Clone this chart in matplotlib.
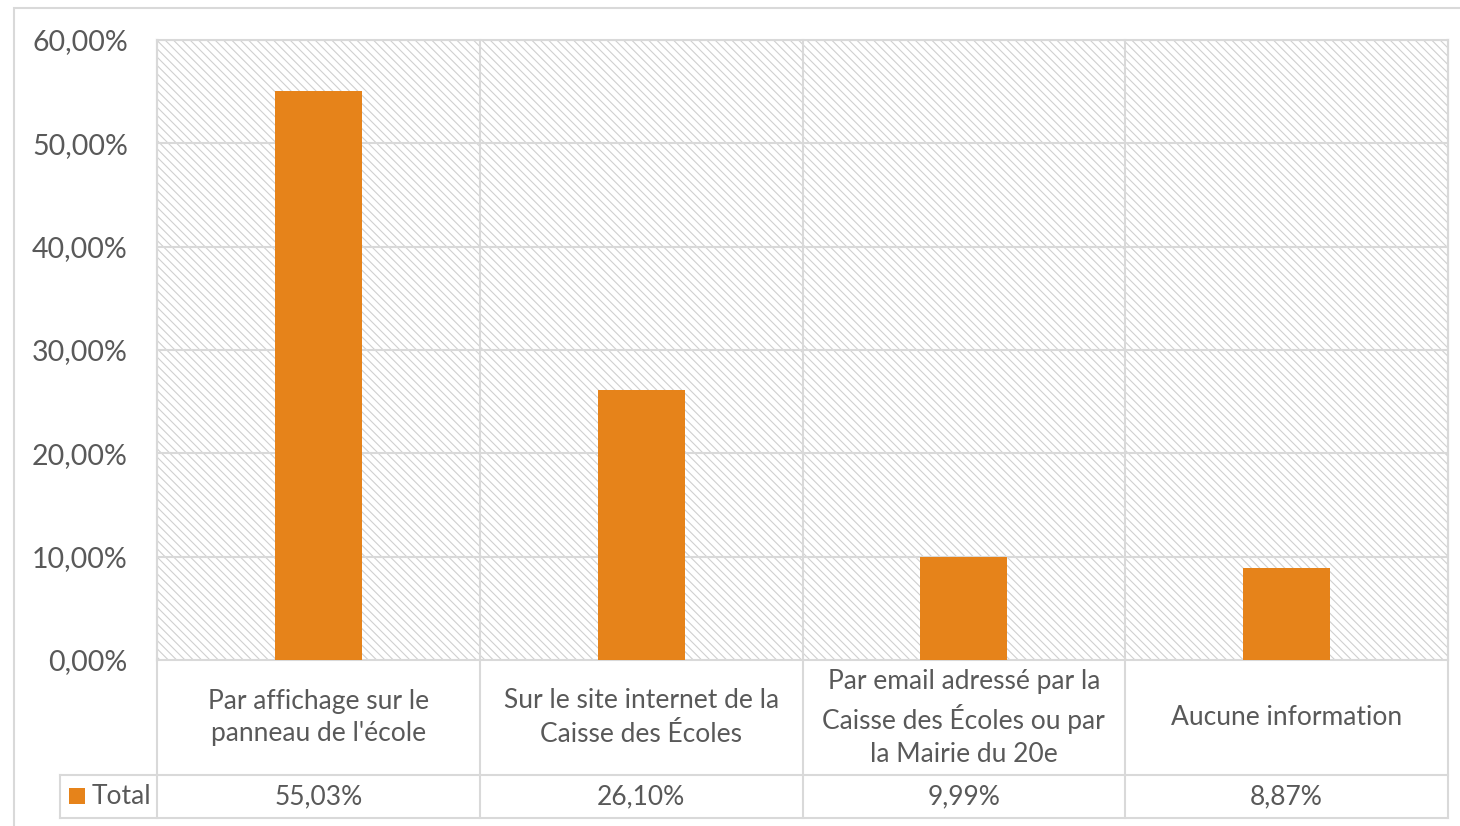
import matplotlib.pyplot as plt
from matplotlib.patches import Rectangle

plt.rcParams['font.family'] = ['Lato', 'DejaVu Sans']
plt.rcParams['hatch.color'] = '#d0d0d0'
plt.rcParams['hatch.linewidth'] = 0.8

categories = ["Par affichage sur le\npanneau de l'école",
              "Sur le site internet de la\nCaisse des Écoles",
              "Par email adressé par la\nCaisse des Écoles ou par\nla Mairie du 20e",
              "Aucune information"]
values = [55.03, 26.10, 9.99, 8.87]
value_labels = ["55,03%", "26,10%", "9,99%", "8,87%"]
yticks = [0, 10, 20, 30, 40, 50, 60]
ytick_labels = ["0,00%", "10,00%", "20,00%", "30,00%", "40,00%", "50,00%", "60,00%"]
series_name = "Total"

bar_color = '#e6831a'
grid_color = '#d9d9d9'
text_color = '#595959'

W, H = 1460, 826
fig = plt.figure(figsize=(W / 100, H / 100), dpi=100)

# outer chart border
fig.patches.append(Rectangle((14 / W, -0.01), 1.0, 1 - 8 / H + 0.01, transform=fig.transFigure,
                             fill=False, edgecolor=grid_color, linewidth=1.5))

left, right, top, bottom = 157, 1448, 40, 660
ax = fig.add_axes([left / W, 1 - bottom / H, (right - left) / W, (bottom - top) / H])

# hatched plot area
ax.patch.set_facecolor('white')
ax.add_patch(Rectangle((0, 0), 1, 1, transform=ax.transAxes, facecolor='white',
                       edgecolor='#d0d0d0', linewidth=0, hatch='\\\\\\\\', zorder=0))

x = range(len(categories))
ax.bar(x, values, width=0.27, color=bar_color, zorder=3)

ax.set_xlim(-0.5, len(categories) - 0.5)
ax.set_ylim(0, 60)
ax.set_yticks(yticks)
ax.set_yticklabels(ytick_labels, fontsize=20.5, color=text_color)
ax.tick_params(axis='y', length=0, pad=21)
ax.set_xticks([])
for s in ax.spines.values():
    s.set_color(grid_color)
    s.set_linewidth(1.5)
for t in yticks[1:]:
    ax.axhline(t, color=grid_color, linewidth=1.5, zorder=1)

# data table below the axis
ph = bottom - top
row1 = -(775 - bottom) / ph
row2 = -(818 - bottom) / ph
xt_left = (60 - left) / (right - left) * len(categories) - 0.5

for b in [i + 0.5 for i in range(-1, len(categories))]:
    ax.plot([b, b], [60, row2 * 60], color=grid_color, linewidth=1.5,
            clip_on=False, zorder=2)
for r in [row1, row2]:
    ax.plot([xt_left, len(categories) - 0.5], [r * 60, r * 60], color=grid_color,
            linewidth=1.5, clip_on=False)
ax.plot([xt_left, xt_left], [row1 * 60, row2 * 60], color=grid_color,
        linewidth=1.5, clip_on=False)

for i, (c, v) in enumerate(zip(categories, value_labels)):
    ax.text(i, row1 * 60 / 2, c, ha='center', va='center', fontsize=19,
            color=text_color, linespacing=1.4)
    ax.text(i, (row1 + row2) * 60 / 2, v, ha='center', va='center', fontsize=19,
            color=text_color)

ax.add_patch(Rectangle(((69 - left) / (right - left) * 4 - 0.5, -(804 - bottom) / ph * 60),
                       16 / (right - left) * 4, 16 / ph * 60, facecolor=bar_color,
                       clip_on=False))
ax.text((92 - left) / (right - left) * 4 - 0.5, (row1 + row2) * 60 / 2, series_name,
        ha='left', va='center', fontsize=19, color=text_color)

fig.savefig('out.png', dpi=100)
